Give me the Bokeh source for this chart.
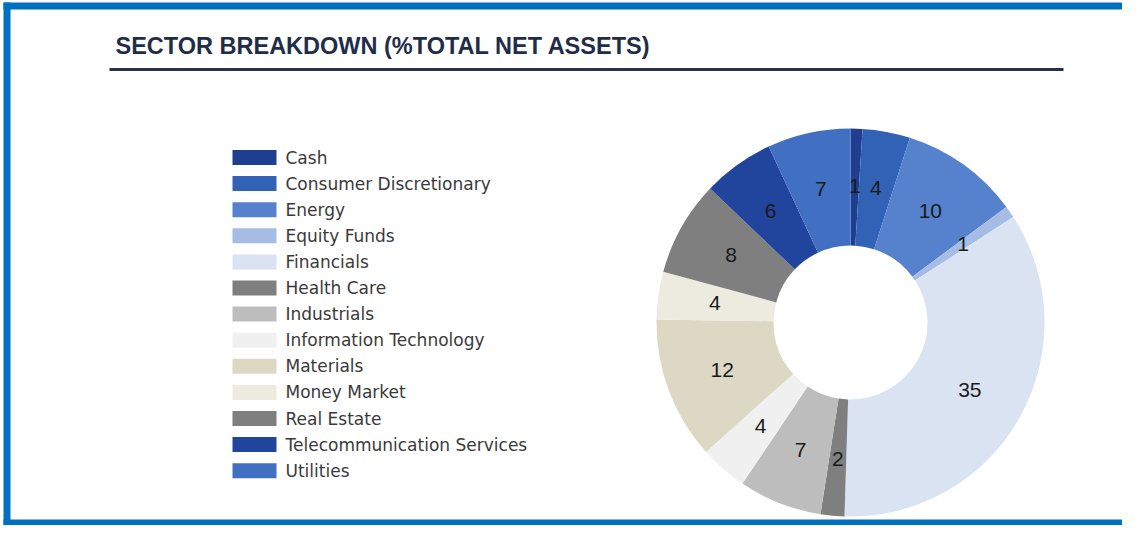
import numpy as np
from bokeh.plotting import figure
from bokeh.models import Range1d
from bokeh.core.properties import value
from bokeh.embed import file_html
from bokeh.resources import INLINE

title = "SECTOR BREAKDOWN (%TOTAL NET ASSETS)"
sectors = ["Cash", "Consumer Discretionary", "Energy", "Equity Funds", "Financials",
           "Health Care", "Industrials", "Information Technology", "Materials",
           "Money Market", "Real Estate", "Telecommunication Services", "Utilities"]
values = [1, 4, 10, 1, 35, 2, 7, 4, 12, 4, 8, 6, 7]
colors = ["#1F3E8F", "#3262B6", "#5581CD", "#A6BCE4", "#DAE3F2",
          "#7F7F7F", "#BDBDBD", "#F0F0F0", "#DDD8C4",
          "#ECEBE0", "#7F7F7F", "#21449C", "#4170C2"]

W, H = 1122, 525


def px(x):
    return x


def py(y):
    return H - y


p = figure(width=W, height=H, x_range=Range1d(0, W), y_range=Range1d(0, H),
           output_backend="svg", toolbar_location=None, min_border=0)
p.axis.visible = False
p.grid.visible = False
p.outline_line_color = None
p.background_fill_color = "white"
p.border_fill_color = "white"

# frame
blue = "#0070C0"
p.quad(left=[px(3)], right=[px(10)], bottom=[0], top=[py(2)], fill_color=blue, line_color=None)
p.quad(left=[px(3)], right=[W], bottom=[py(9)], top=[py(2)], fill_color=blue, line_color=None)
p.quad(left=[px(3)], right=[W], bottom=[0], top=[6], fill_color=blue, line_color=None)

# title
p.text(x=[px(115)], y=[py(45)], text=[title], text_font=value("Liberation Sans"),
       text_font_style="bold", text_font_size="23.5px", text_color="#1F2D4A",
       text_align="left", text_baseline="middle")
p.segment(x0=[px(109)], y0=[py(69)], x1=[px(1063)], y1=[py(69)],
          line_color="#26324A", line_width=3)

# donut
vals = np.array(values, dtype=float)
total = vals.sum()
cum = np.concatenate([[0], np.cumsum(vals)])
start = np.pi / 2 - 2 * np.pi * cum[1:] / total
end = np.pi / 2 - 2 * np.pi * cum[:-1] / total
mid = (start + end) / 2
cx, cy = px(850), py(322)
r_out, r_in = 194, 77
p.annular_wedge(x=cx, y=cy, inner_radius=r_in, outer_radius=r_out,
                start_angle=list(start), end_angle=list(end),
                fill_color=colors, line_color=None)
r_lab = 137
p.text(x=list(cx + r_lab * np.cos(mid)), y=list(cy + r_lab * np.sin(mid)),
       text=[str(v) for v in values], text_font=value("Liberation Sans"),
       text_font_size="21px", text_color="#1A1A1A",
       text_align="center", text_baseline="middle")

# legend
n = len(sectors)
ly = [py(157 + 26.1 * i) for i in range(n)]
p.rect(x=[px(254)] * n, y=ly, width=44, height=15, fill_color=colors, line_color=None)
p.text(x=[px(285)] * n, y=ly, text=sectors, text_font=value("DejaVu Sans"),
       text_font_size="17px", text_color="#3A3A3A",
       text_align="left", text_baseline="middle")

open("out.html", "w").write(file_html(p, INLINE))
